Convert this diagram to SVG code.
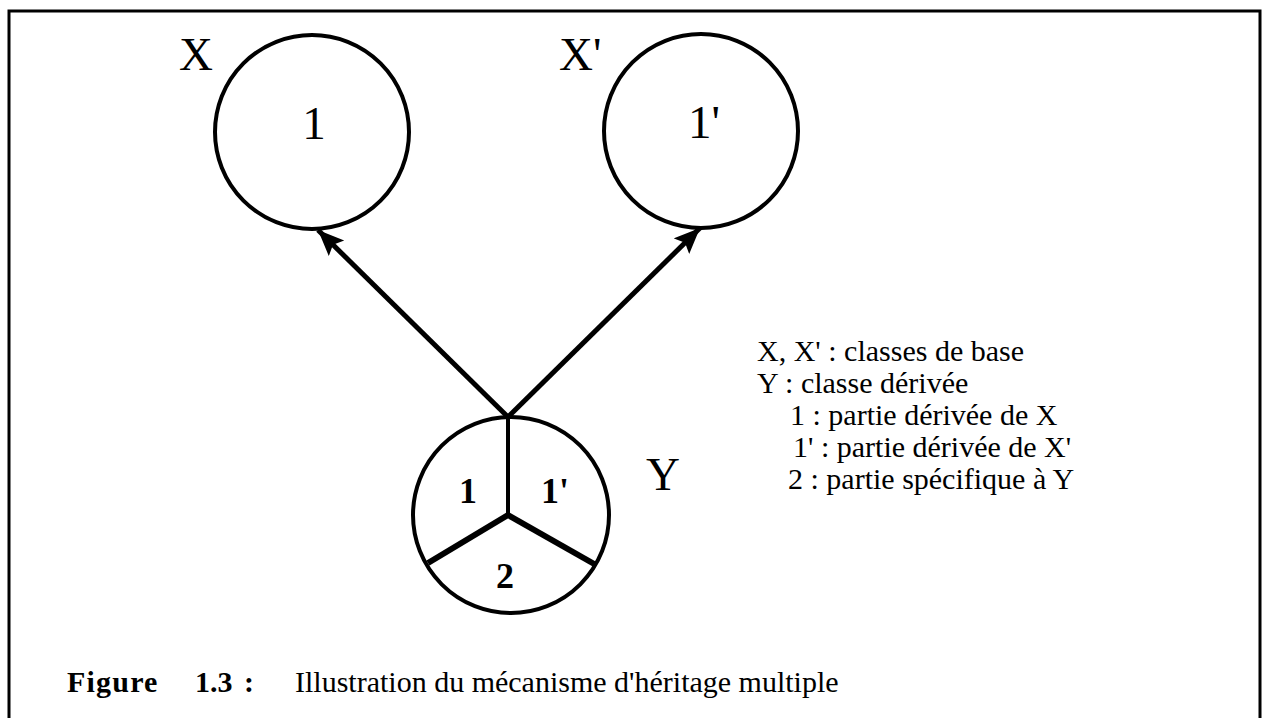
<svg xmlns="http://www.w3.org/2000/svg" width="1268" height="718" viewBox="0 0 1268 718">
<style>
  .ring { fill: none; stroke: #000; stroke-width: 4; }
  .lbl { font-family: "Liberation Serif", "Times New Roman", serif; fill: #000; }
  .big { font-size: 47px; }
  .mid { font-size: 36px; font-weight: bold; }
  .leg { font-size: 30px; }
  .cap { font-size: 30px; }
  .capb { font-size: 30px; font-weight: bold; }
  .conn { stroke: #000; stroke-width: 5; fill: none; }
  .spoke { stroke: #000; stroke-width: 4; }
  .spoke2 { stroke: #000; stroke-width: 6; }
</style>
<defs>
  <marker id="ah" markerUnits="userSpaceOnUse" markerWidth="30" markerHeight="24" refX="26" refY="11" orient="auto">
    <path d="M0,0 L26,11 L0,22 L5,11 Z" fill="#000"/>
  </marker>
</defs>
<rect width="1268" height="718" fill="#fff"/>
<path d="M9,730 L9,11 L1260,11 L1260,730" fill="none" stroke="#000" stroke-width="3"/>

<g id="nodeX">
  <circle class="ring" cx="312" cy="132" r="97"/>
  <text class="lbl big" x="314" y="139" text-anchor="middle">1</text>
  <text class="lbl big" x="179" y="70">X</text>
</g>
<g id="nodeX2">
  <circle class="ring" cx="701" cy="131" r="97"/>
  <text class="lbl big" x="688" y="138">1'</text>
  <text class="lbl big" x="559" y="70">X'</text>
</g>
<g id="nodeY">
  <circle class="ring" cx="511" cy="515" r="98"/>
  <line class="spoke" x1="508" y1="418" x2="508" y2="515"/>
  <line class="spoke2" x1="508" y1="515" x2="428" y2="563"/>
  <line class="spoke2" x1="508" y1="515" x2="596" y2="565"/>
  <text class="lbl mid" x="468" y="503" text-anchor="middle">1</text>
  <text class="lbl mid" x="541" y="503">1'</text>
  <text class="lbl mid" x="505" y="588" text-anchor="middle">2</text>
  <text class="lbl big" x="646" y="490">Y</text>
</g>
<g id="connectors">
  <line class="conn" x1="509" y1="418" x2="318" y2="230" marker-end="url(#ah)"/>
  <line class="conn" x1="507" y1="418" x2="700" y2="228" marker-end="url(#ah)"/>
</g>
<g id="legend">
  <text class="lbl leg" x="757" y="361">X, X' : classes de base</text>
  <text class="lbl leg" x="757" y="393">Y : classe dérivée</text>
  <text class="lbl leg" x="790" y="425">1 : partie dérivée de X</text>
  <text class="lbl leg" x="793" y="457">1' : partie dérivée de X'</text>
  <text class="lbl leg" x="788" y="489">2 : partie spécifique à Y</text>
</g>
<g id="caption">
  <text class="lbl capb" x="67" y="692" style="letter-spacing:1.2px">Figure</text>
  <text class="lbl capb" x="195" y="692">1.3</text>
  <text class="lbl capb" x="244" y="692">:</text>
  <text class="lbl cap" x="295" y="692">Illustration du mécanisme d'héritage multiple</text>
</g>
</svg>
